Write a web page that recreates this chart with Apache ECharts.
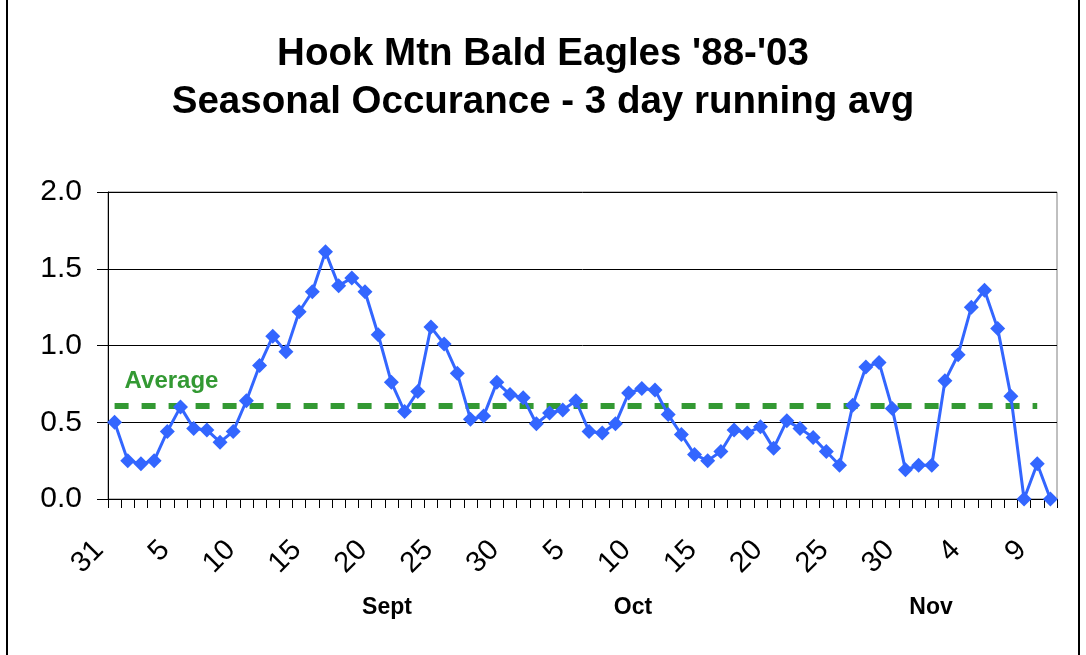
<!DOCTYPE html>
<html>
<head>
<meta charset="utf-8">
<script src="https://cdn.jsdelivr.net/npm/echarts@6/dist/echarts.min.js"></script>
<style>
  html, body { margin: 0; padding: 0; background: #fff; }
  #chart { width: 1086px; height: 655px; }
</style>
</head>
<body>
<div id="chart"></div>
<script>
// days shown on the axis: Aug 31 .. Nov 10
const months = [
  { name: 'Aug', first: 31, last: 31 },
  { name: 'Sep', first: 1, last: 30 },
  { name: 'Oct', first: 1, last: 31 },
  { name: 'Nov', first: 1, last: 10 }
]
const days = []
months.forEach(m => {
  for (let d = m.first; d <= m.last; d++) days.push(m.name + ' ' + d)
})

// 3 day running average of eagles per day
const runningAvg = [
  0.50, 0.25, 0.23, 0.25, 0.44, 0.60, 0.46, 0.45, 0.37, 0.44,
  0.64, 0.87, 1.06, 0.96, 1.22, 1.35, 1.61, 1.39, 1.44, 1.35,
  1.07, 0.76, 0.57, 0.70, 1.12, 1.01, 0.82, 0.52, 0.54, 0.76,
  0.68, 0.66, 0.49, 0.56, 0.58, 0.64, 0.44, 0.43, 0.49, 0.69,
  0.72, 0.71, 0.55, 0.42, 0.29, 0.25, 0.31, 0.45, 0.43, 0.47,
  0.33, 0.51, 0.46, 0.40, 0.31, 0.22, 0.61, 0.86, 0.89, 0.59,
  0.19, 0.22, 0.22, 0.77, 0.94, 1.25, 1.36, 1.11, 0.67, 0.00,
  0.23, 0.00
]
const seasonAverage = 0.61

const yTicks = { min: 0, max: 2, interval: 0.5 }
const monthLabels = [
  { text: 'Sept', x: 387 },
  { text: 'Oct', x: 633 },
  { text: 'Nov', x: 931 }
]

const chart = echarts.init(document.getElementById('chart'))

const font = 'Liberation Sans, Arial, sans-serif'

chart.setOption({
  animation: false,
  backgroundColor: '#fff',
  title: {
    text: "Hook Mtn Bald Eagles '88-'03\nSeasonal Occurance - 3 day running avg",
    left: 'center',
    top: 25,
    textStyle: {
      fontFamily: font,
      fontSize: 38.5,
      fontWeight: 'bold',
      color: '#000',
      lineHeight: 48
    }
  },
  grid: {
    left: 108,
    right: 29,
    top: 192,
    bottom: 156,
    show: true,
    borderColor: '#808080',
    borderWidth: 1
  },
  xAxis: {
    type: 'category',
    data: days,
    boundaryGap: true,
    axisLine: { lineStyle: { color: '#000', width: 1 } },
    axisTick: { show: true, interval: 0, length: 9, lineStyle: { color: '#000' } },
    axisLabel: {
      interval: 4,
      rotate: 45,
      margin: 31,
      padding: [0, 22, 0, 0],
      fontFamily: font,
      fontSize: 29,
      color: '#000',
      formatter: v => v.split(' ')[1]
    },
    splitLine: { show: false }
  },
  yAxis: {
    type: 'value',
    min: yTicks.min,
    max: yTicks.max,
    interval: yTicks.interval,
    axisLine: { show: true, lineStyle: { color: '#000', width: 1 } },
    axisTick: { show: true, length: 11, lineStyle: { color: '#000' } },
    axisLabel: {
      margin: 26,
      fontFamily: font,
      fontSize: 30,
      color: '#000',
      formatter: v => v.toFixed(1)
    },
    splitLine: { show: true, lineStyle: { color: '#000', width: 1 } }
  },
  series: [
    {
      name: '3 day running avg',
      type: 'line',
      data: runningAvg,
      symbol: 'diamond',
      symbolSize: 15,
      showAllSymbol: true,
      lineStyle: { color: '#3366FF', width: 3 },
      itemStyle: { color: '#3366FF' },
      z: 3,
      markLine: {
        silent: true,
        symbol: 'none',
        z: 2,
        lineStyle: { color: '#339933', width: 6, type: [14, 13] },
        label: {
          show: true,
          position: 'insideStartTop',
          formatter: 'Average',
          fontFamily: font,
          fontSize: 24,
          fontWeight: 'bold',
          color: '#339933',
          distance: [10, 12]
        },
        data: [[
          { coord: [0, seasonAverage] },
          { coord: [70, seasonAverage] }
        ]]
      }
    }
  ],
  graphic: [
    {
      type: 'rect',
      shape: { x: 7, y: -5, width: 1072, height: 670 },
      style: { fill: 'none', stroke: '#000', lineWidth: 2 },
      silent: true
    }
  ].concat(monthLabels.map(m => ({
    type: 'text',
    x: m.x,
    y: 608,
    style: {
      text: m.text,
      fontFamily: font,
      fontSize: 23,
      fontWeight: 'bold',
      fill: '#000',
      align: 'center',
      verticalAlign: 'middle'
    }
  })))
})
</script>
</body>
</html>
